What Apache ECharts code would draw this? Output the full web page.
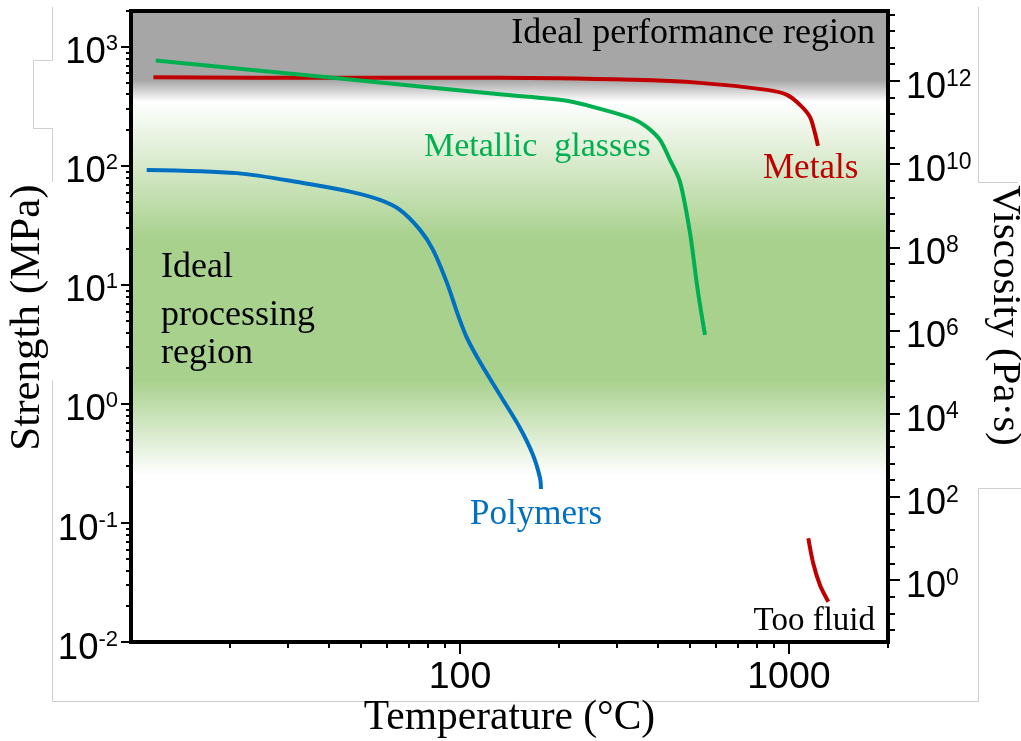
<!DOCTYPE html>
<html><head><meta charset="utf-8">
<script src="https://cdn.jsdelivr.net/npm/echarts@6/dist/echarts.min.js"></script>
<style>html,body{margin:0;padding:0;background:#fff}#c{width:1021px;height:741px}</style>
</head><body><div id="c"></div>
<script>
// ---- data (temperature in °C, strength in MPa) ----
const xTickLabels = [100, 1000];
const xMinorTicks = [20,30,40,50,60,70,80,90,200,300,400,500,600,700,800,900,2000];
const strengthTickExps = [-2,-1,0,1,2,3];
const viscosityTickExps = [0,2,4,6,8,10,12];

const polymersT = [11.16, 20.96, 33.33, 46.3, 57.1, 65.7, 75.6, 82.8, 91.3, 98.6, 105.0, 115.0, 132.3, 152.2, 166.7, 175.1, 176.3];
const polymersS = [92.5, 86.9, 71.9, 60.8, 51.8, 42.7, 29.0, 19.7, 10.4, 5.60, 3.59, 2.25, 1.19, 0.628, 0.3727, 0.2388, 0.193];

const glassesT = [11.9, 40.3, 137, 211, 266.5, 335.7, 369.4, 405.5, 434.8, 466.4, 500.2, 524.3, 536.5, 555.5];
const glassesS = [767, 552, 395, 351.7, 301.3, 248.3, 212.7, 165.4, 112.3, 73.4, 27.4, 10.4, 6.79, 3.80];

const metalsSolidT = [11.7, 40.3, 132.3, 335.7, 536.5, 857.5, 986, 1080, 1158, 1199, 1225];
const metalsSolidS = [554, 549, 549, 528, 498, 435, 395, 325.5, 258, 189.4, 147.3];

const metalsLiquidT = [1145, 1185, 1242, 1317];
const metalsLiquidS = [0.0744, 0.0458, 0.0301, 0.0218];

// ---- helpers ----
const lg = Math.log10;
const X_MIN = 1, X_MAX = lg(2000);
const Y_MIN = -2, Y_MAX = lg(2000);
const V_MIN = -1.49, V_MAX = 13.68;

const strengthMinor = [];
for (let n = -2; n <= 3; n++) for (let k = 2; k <= 9; k++) {
  const v = n + lg(k); if (v <= Y_MAX + 1e-9) strengthMinor.push(v);
}
const viscMinor = [];
for (let v = -1.2; v <= V_MAX + 1e-9; v += 0.4) viscMinor.push(+v.toFixed(2));

const pts = (T, S) => T.map((t, i) => [lg(t), lg(S[i])]);

const SANS = '"Liberation Sans", Arial, Helvetica, sans-serif';
const SERIF = '"Liberation Serif", "Times New Roman", serif';

const supRich = (base, sup) => ({
  b: { fontSize: base, fontFamily: SANS, color: '#000', lineHeight: 40 },
  s: { fontSize: sup, fontFamily: SANS, color: '#000', verticalAlign: 'top', lineHeight: 30 }
});

const chart = echarts.init(document.getElementById('c'), null, { renderer: 'canvas' });

const lineSeries = (name, data, color) => ({
  name, type: 'line', data, xAxisIndex: 0, yAxisIndex: 0,
  symbol: 'none', smooth: 0.3, clip: true,
  lineStyle: { color, width: 4, cap: 'butt', join: 'round' }, z: 5
});

const noLine = { show: false, onZero: false };
const frameLine = pts => ({ type: 'polyline', z: 0, silent: true,
  shape: { points: pts }, style: { stroke: '#cfcfcf', lineWidth: 1, fill: null } });

chart.setOption({
  animation: false,
  backgroundColor: '#fff',
  grid: {
    left: 131, right: 133, top: 11, bottom: 99,
    show: true, borderColor: '#000', borderWidth: 4,
    outerBoundsMode: 'none', containLabel: false,
    backgroundColor: {
      type: 'linear', x: 0, y: 0, x2: 0, y2: 1,
      colorStops: [
        { offset: 0, color: '#a6a6a6' },
        { offset: 0.112, color: '#a6a6a6' },
        { offset: 0.146, color: '#ffffff' },
        { offset: 0.36, color: '#a9d18e' },
        { offset: 0.585, color: '#a9d18e' },
        { offset: 0.735, color: '#ffffff' },
        { offset: 1, color: '#ffffff' }
      ]
    }
  },
  xAxis: [
    {
      type: 'value', min: X_MIN, max: X_MAX, position: 'bottom',
      name: 'Temperature (°C)', nameLocation: 'middle', nameGap: 55, nameMoveOverlap: false,
      nameTextStyle: { fontFamily: SERIF, fontSize: 41.5, color: '#000' },
      axisLine: { show: true, onZero: false, lineStyle: { color: '#000', width: 4 } },
      axisTick: { show: true, customValues: xTickLabels.map(lg), length: 12, lineStyle: { color: '#000', width: 2 } },
      axisLabel: { customValues: xTickLabels.map(lg), formatter: v => String(Math.round(Math.pow(10, v))),
        fontFamily: SANS, fontSize: 37.5, color: '#000', margin: 17 },
      splitLine: { show: false }
    },
    {
      type: 'value', min: X_MIN, max: X_MAX, position: 'bottom',
      axisLine: noLine,
      axisTick: { show: true, customValues: xMinorTicks.map(lg), length: 6, lineStyle: { color: '#000', width: 2 } },
      axisLabel: { show: false }, splitLine: { show: false }
    }
  ],
  yAxis: [
    {
      type: 'value', min: Y_MIN, max: Y_MAX, position: 'left',
      name: 'Strength (MPa)', nameLocation: 'middle', nameGap: 82, nameMoveOverlap: false,
      nameTextStyle: { fontFamily: SERIF, fontSize: 43, color: '#000', padding: [0, 0, 0, 18] },
      axisLine: { show: true, onZero: false, lineStyle: { color: '#000', width: 4 } },
      axisTick: { show: true, customValues: strengthTickExps, length: 10, lineStyle: { color: '#000', width: 2 } },
      axisLabel: { customValues: strengthTickExps, formatter: v => `{b|10}{s|${v}}`,
        rich: supRich(36.5, 22), margin: 13, padding: [13, 0, 0, 0] },
      splitLine: { show: false }
    },
    {
      type: 'value', min: Y_MIN, max: Y_MAX, position: 'left',
      axisLine: noLine,
      axisTick: { show: true, customValues: strengthMinor, length: 5, lineStyle: { color: '#000', width: 2 } },
      axisLabel: { show: false }, splitLine: { show: false }
    },
    {
      type: 'value', min: V_MIN, max: V_MAX, position: 'right',
      name: 'Viscosity (Pa·s)', nameLocation: 'middle', nameGap: 96, nameRotate: -90, nameMoveOverlap: false,
      nameTextStyle: { fontFamily: SERIF, fontSize: 41, color: '#000', padding: [0, 22, 0, 0] },
      axisLine: { show: true, onZero: false, lineStyle: { color: '#000', width: 4 } },
      axisTick: { show: true, customValues: viscosityTickExps, length: 12, lineStyle: { color: '#000', width: 2 } },
      axisLabel: { customValues: viscosityTickExps, formatter: v => `{b|10}{s|${v}}`,
        rich: supRich(36, 23), margin: 18, padding: [14, 0, 0, 0] },
      splitLine: { show: false }
    },
    {
      type: 'value', min: V_MIN, max: V_MAX, position: 'right',
      axisLine: noLine,
      axisTick: { show: true, customValues: viscMinor, length: 7, lineStyle: { color: '#000', width: 2 } },
      axisLabel: { show: false }, splitLine: { show: false }
    }
  ],
  series: [
    lineSeries('Metals', pts(metalsSolidT, metalsSolidS), '#c00000'),
    lineSeries('Metals (liquid)', pts(metalsLiquidT, metalsLiquidS), '#c00000'),
    lineSeries('Metallic glasses', pts(glassesT, glassesS), '#00b050'),
    lineSeries('Polymers', pts(polymersT, polymersS), '#0070c0')
  ],
  graphic: [
    frameLine([[52.5, 7], [52.5, 60.5], [33.5, 60.5], [33.5, 128.5], [52.5, 128.5], [52.5, 182]]),
    frameLine([[52.5, 380], [52.5, 701.5], [978.5, 701.5], [978.5, 488.5], [1021, 488.5]]),
    frameLine([[978.5, 7], [978.5, 182.5], [1018, 182.5]]),
    { type: 'text', x: 875, y: 34, z: 10, style: { text: 'Ideal performance region', font: `36px ${SERIF}`, fill: '#000', textAlign: 'right', textVerticalAlign: 'middle' } },
    { type: 'text', x: 424, y: 147, z: 10, style: { text: 'Metallic  glasses', font: `34px ${SERIF}`, fill: '#00b050', textAlign: 'left', textVerticalAlign: 'middle' } },
    { type: 'text', x: 763, y: 169, z: 10, style: { text: 'Metals', font: `35px ${SERIF}`, fill: '#c00000', textAlign: 'left', textVerticalAlign: 'middle' } },
    { type: 'text', x: 470, y: 515, z: 10, style: { text: 'Polymers', font: `35px ${SERIF}`, fill: '#0070c0', textAlign: 'left', textVerticalAlign: 'middle' } },
    { type: 'text', x: 161, y: 268, z: 10, style: { text: 'Ideal', font: `36px ${SERIF}`, fill: '#000', textAlign: 'left', textVerticalAlign: 'middle' } },
    { type: 'text', x: 161, y: 316, z: 10, style: { text: 'processing', font: `36px ${SERIF}`, fill: '#000', textAlign: 'left', textVerticalAlign: 'middle' } },
    { type: 'text', x: 161, y: 354, z: 10, style: { text: 'region', font: `36px ${SERIF}`, fill: '#000', textAlign: 'left', textVerticalAlign: 'middle' } },
    { type: 'text', x: 875, y: 621, z: 10, style: { text: 'Too fluid', font: `33px ${SERIF}`, fill: '#000', textAlign: 'right', textVerticalAlign: 'middle' } }
  ]
});
</script>
</body></html>
